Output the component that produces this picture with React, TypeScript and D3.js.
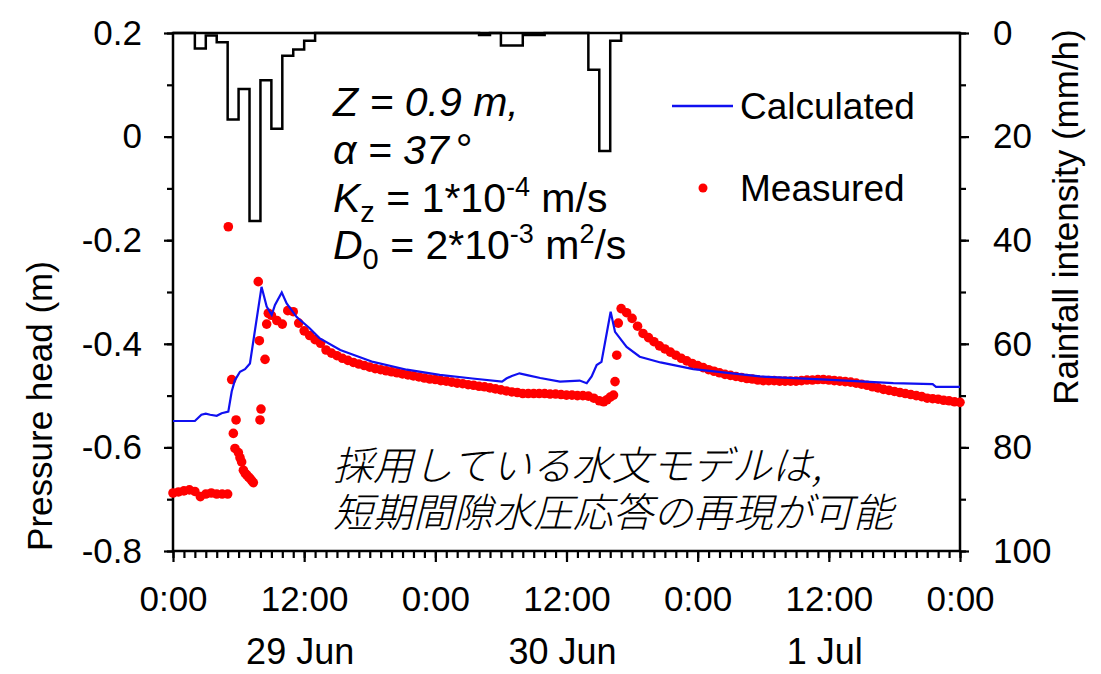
import { useEffect, useRef } from 'react';
import * as d3 from 'd3';

// Rainfall intensity (mm/h), one value per hour from 0:00 29 Jun
const RAIN = [
  0, 0, 3, 0.5, 1.8, 16.7, 10.8, 36.3, 9.1, 18.5, 4.4, 3.2,
  1.5, 0, 0, 0, 0, 0, 0, 0, 0, 0, 0, 0,
  0, 0, 0, 0, 0.4, 0, 2.4, 2.4, 0.4, 0.4, 0, 0,
  0, 0, 7.1, 22.8, 1.5, 0, 0, 0, 0, 0, 0, 0,
  0, 0, 0, 0, 0, 0, 0, 0, 0, 0, 0, 0,
  0, 0, 0, 0, 0, 0, 0, 0, 0, 0, 0, 0,
];

// Calculated pressure head (m)
const CALC_HOURS = [
  0, 2.0, 2.6, 3.0, 3.4, 4.0, 4.45, 5.06, 5.37, 5.67, 6.13, 6.59, 7.04, 8.1,
  8.57, 9.03, 9.33, 9.95, 10.4, 11.3, 12.5, 13.4, 15.3, 18.3, 21.4, 24.4, 27.4,
  30.1, 30.5, 31.0, 31.7, 32.5, 33.6, 35.4, 37.2, 37.85, 38.3, 38.76, 39.2,
  40.04, 40.44, 41.5, 42.7, 44.6, 47.6, 53.7, 59.8, 65.9, 69.5, 69.8, 72,
];
const CALC_HEAD = [
  -0.549, -0.549, -0.537, -0.535, -0.537, -0.539, -0.534, -0.531, -0.492, -0.47,
  -0.454, -0.449, -0.438, -0.29, -0.328, -0.344, -0.325, -0.301, -0.322, -0.348,
  -0.37, -0.389, -0.412, -0.435, -0.45, -0.46, -0.467, -0.473, -0.467, -0.462,
  -0.457, -0.461, -0.466, -0.473, -0.471, -0.476, -0.463, -0.441, -0.435,
  -0.338, -0.377, -0.406, -0.425, -0.436, -0.449, -0.463, -0.469, -0.476,
  -0.478, -0.483, -0.483,
];

// Measured pressure head (m): half-hourly runs plus the scattered points of the rises
const MEAS_STEP = 0.5;
const MEAS_A_START = 0;
const MEAS_A = [
  -0.688, -0.686, -0.684, -0.682, -0.685, -0.695, -0.69, -0.688, -0.69, -0.69, -0.69,
];
const MEAS_RISE1 = [
  [5.06, -0.174], [5.37, -0.469], [5.52, -0.573], [5.67, -0.602], [5.77, -0.547],
  [5.98, -0.61], [6.13, -0.62], [6.28, -0.628], [6.44, -0.644], [6.6, -0.65],
  [6.74, -0.653], [6.9, -0.657], [7.04, -0.66], [7.2, -0.664], [7.35, -0.668],
  [7.8, -0.28], [7.9, -0.394], [7.96, -0.547], [8.05, -0.526], [8.42, -0.43],
  [8.57, -0.362], [8.72, -0.341],
];
const MEAS_B_START = 9;
const MEAS_B = [
  -0.345, -0.355, -0.362, -0.336, -0.338, -0.36, -0.375, -0.384, -0.392, -0.399,
  -0.412, -0.418, -0.423, -0.428, -0.432, -0.436, -0.439, -0.442, -0.445, -0.448,
  -0.45, -0.452, -0.454, -0.456, -0.458, -0.46, -0.462, -0.464, -0.466, -0.468,
  -0.469, -0.471, -0.472, -0.474, -0.476, -0.477, -0.479, -0.48, -0.482, -0.483,
  -0.485, -0.487, -0.489, -0.491, -0.493, -0.494, -0.496, -0.496, -0.496, -0.496,
  -0.496, -0.497, -0.497, -0.498, -0.499, -0.499, -0.5, -0.5, -0.501, -0.505, -0.51,
];
const MEAS_RISE2 = [
  [39.4, -0.512], [39.7, -0.508], [40.0, -0.503], [40.3, -0.499], [40.44, -0.473],
  [40.6, -0.422], [40.74, -0.36],
];
const MEAS_C_START = 41;
const MEAS_C = [
  -0.332, -0.34, -0.351, -0.366, -0.38, -0.388, -0.396, -0.404, -0.41, -0.416,
  -0.422, -0.428, -0.433, -0.438, -0.442, -0.446, -0.45, -0.453, -0.456, -0.459,
  -0.461, -0.463, -0.465, -0.467, -0.468, -0.47, -0.471, -0.471, -0.471, -0.472,
  -0.472, -0.472, -0.472, -0.471, -0.47, -0.47, -0.469, -0.469, -0.47, -0.471,
  -0.472, -0.473, -0.474, -0.476, -0.478, -0.48, -0.483, -0.485, -0.488, -0.49,
  -0.492, -0.494, -0.496, -0.498, -0.5, -0.502, -0.505, -0.506, -0.507, -0.509,
  -0.51, -0.512, -0.513,
];

const X_TICK_LABELS = ['0:00', '12:00', '0:00', '12:00', '0:00', '12:00', '0:00'];
const DATE_LABELS = ['29 Jun', '30 Jun', '1 Jul'];
const LEFT_TICKS = [0.2, 0, -0.2, -0.4, -0.6, -0.8];
const LEFT_TICK_LABELS = ['0.2', '0', '-0.2', '-0.4', '-0.6', '-0.8'];
const RIGHT_TICKS = [0, 20, 40, 60, 80, 100];

const W = 1101;
const H = 674;
const PLOT = { left: 173, right: 960, top: 33, bottom: 551 };
const FONT = '"Liberation Sans", Arial, sans-serif';
const JP_FONT = '"Noto Sans CJK JP", sans-serif';
const BLUE = '#1010f0';
const RED = '#ff0000';

export default function App() {
  const svgRef = useRef<SVGSVGElement>(null);

  useEffect(() => {
    const svg = d3.select(svgRef.current);
    svg.selectAll('*').remove();

    const x = d3.scaleLinear().domain([0, 72]).range([PLOT.left, PLOT.right]);
    const y = d3.scaleLinear().domain([-0.8, 0.2]).range([PLOT.bottom, PLOT.top]);
    const yR = d3.scaleLinear().domain([0, 100]).range([PLOT.top, PLOT.bottom]);

    // measured table
    const measured: [number, number][] = [
      ...MEAS_A.map((v, i) => [MEAS_A_START + i * MEAS_STEP, v] as [number, number]),
      ...(MEAS_RISE1 as [number, number][]),
      ...MEAS_B.map((v, i) => [MEAS_B_START + i * MEAS_STEP, v] as [number, number]),
      ...(MEAS_RISE2 as [number, number][]),
      ...MEAS_C.map((v, i) => [MEAS_C_START + i * MEAS_STEP, v] as [number, number]),
    ];

    // Axes ------------------------------------------------------------------
    const styleAxis = (size: number) => (g: any) => {
      g.select('.domain').remove();
      g.selectAll('line').attr('stroke', '#000').attr('stroke-width', 2.2);
      g.selectAll('text')
        .style('font-family', FONT)
        .style('font-size', `${size}px`)
        .attr('fill', '#000');
    };

    // bottom minor ticks (hourly)
    svg
      .append('g')
      .attr('transform', `translate(0,${PLOT.bottom})`)
      .call(d3.axisBottom(x).tickValues(d3.range(0, 73, 1)).tickSize(7).tickFormat(() => ''))
      .call(styleAxis(35));
    // bottom major ticks
    svg
      .append('g')
      .attr('transform', `translate(0,${PLOT.bottom})`)
      .call(
        d3
          .axisBottom(x)
          .tickValues(d3.range(0, 73, 12))
          .tickSize(11)
          .tickPadding(24)
          .tickFormat((_, i) => X_TICK_LABELS[i])
      )
      .call(styleAxis(35));

    // date labels under the 12:00 ticks
    svg
      .append('g')
      .selectAll('text')
      .data(DATE_LABELS)
      .join('text')
      .attr('x', (_, i) => x(12 + i * 24) - 4)
      .attr('y', 664)
      .attr('text-anchor', 'middle')
      .style('font-family', FONT)
      .style('font-size', '36px')
      .text((d) => d);

    // left axis
    svg
      .append('g')
      .attr('transform', `translate(${PLOT.left},0)`)
      .call(d3.axisLeft(y).tickValues(d3.range(-0.8, 0.21, 0.1)).tickSize(6).tickFormat(() => ''))
      .call(styleAxis(35));
    svg
      .append('g')
      .attr('transform', `translate(${PLOT.left},0)`)
      .call(
        d3
          .axisLeft(y)
          .tickValues(LEFT_TICKS)
          .tickSize(9)
          .tickPadding(22)
          .tickFormat((_, i) => LEFT_TICK_LABELS[i])
      )
      .call(styleAxis(35));

    // right axis
    svg
      .append('g')
      .attr('transform', `translate(${PLOT.right},0)`)
      .call(d3.axisRight(yR).tickValues(d3.range(0, 101, 10)).tickSize(6).tickFormat(() => ''))
      .call(styleAxis(35));
    svg
      .append('g')
      .attr('transform', `translate(${PLOT.right},0)`)
      .call(d3.axisRight(yR).tickValues(RIGHT_TICKS).tickSize(9).tickPadding(24))
      .call(styleAxis(35));

    // frame
    svg
      .append('rect')
      .attr('x', PLOT.left)
      .attr('y', PLOT.top)
      .attr('width', PLOT.right - PLOT.left)
      .attr('height', PLOT.bottom - PLOT.top)
      .attr('fill', 'none')
      .attr('stroke', '#000')
      .attr('stroke-width', 2.5);

    // axis titles
    svg
      .append('text')
      .attr('transform', `translate(52,406) rotate(-90)`)
      .attr('text-anchor', 'middle')
      .style('font-family', FONT)
      .style('font-size', '35px')
      .text('Pressure head (m)');
    svg
      .append('text')
      .attr('transform', `translate(1078,217) rotate(-90)`)
      .attr('text-anchor', 'middle')
      .style('font-family', FONT)
      .style('font-size', '35px')
      .text('Rainfall intensity (mm/h)');

    // Hyetograph (step outline hanging from the top) -------------------------
    const rainPts = RAIN.map((r, i) => [i, r] as [number, number]);
    rainPts.push([72, RAIN[RAIN.length - 1]]);
    svg
      .append('path')
      .attr(
        'd',
        d3
          .line<[number, number]>()
          .x((d) => x(d[0]))
          .y((d) => yR(d[1]))
          .curve(d3.curveStepAfter)(rainPts)
      )
      .attr('fill', 'none')
      .attr('stroke', '#000')
      .attr('stroke-width', 2.5);

    // Measured dots ----------------------------------------------------------
    svg
      .append('g')
      .selectAll('circle')
      .data(measured)
      .join('circle')
      .attr('cx', (d) => x(d[0]))
      .attr('cy', (d) => y(d[1]))
      .attr('r', 4.8)
      .attr('fill', RED);

    // Calculated line --------------------------------------------------------
    svg
      .append('path')
      .attr(
        'd',
        d3
          .line<number>()
          .x((_, i) => x(CALC_HOURS[i]))
          .y((d) => y(d))(CALC_HEAD)
      )
      .attr('fill', 'none')
      .attr('stroke', BLUE)
      .attr('stroke-width', 2.2);

    // Legend -----------------------------------------------------------------
    svg
      .append('line')
      .attr('x1', 672)
      .attr('x2', 733)
      .attr('y1', 106)
      .attr('y2', 106)
      .attr('stroke', BLUE)
      .attr('stroke-width', 2.5);
    svg.append('circle').attr('cx', 703).attr('cy', 188).attr('r', 4.5).attr('fill', RED);
    svg
      .append('g')
      .selectAll('text')
      .data([
        ['Calculated', 119],
        ['Measured', 201],
      ])
      .join('text')
      .attr('x', 740)
      .attr('y', (d) => d[1] as number)
      .style('font-family', FONT)
      .style('font-size', '37px')
      .text((d) => d[0] as string);

    // Parameter annotation ---------------------------------------------------
    const ann = svg
      .append('g')
      .style('font-family', FONT)
      .style('font-size', '41px');

    ann.append('text').attr('x', 333).attr('y', 116).style('font-style', 'italic').text('Z = 0.9 m,');

    const a = ann.append('text').attr('x', 333).attr('y', 164);
    a.append('tspan').style('font-style', 'italic').text('α = 37');
    a.append('tspan').attr('dx', 7).attr('font-size', 42).text('°');

    const k = ann.append('text').attr('x', 333).attr('y', 212);
    k.append('tspan').style('font-style', 'italic').text('K');
    k.append('tspan').attr('font-size', 29).attr('dy', 10).text('z');
    k.append('tspan').attr('dy', -10).text(' = 1*10');
    k.append('tspan').attr('font-size', 27).attr('dy', -16).text('-4');
    k.append('tspan').attr('dy', 16).text(' m/s');

    const dd = ann.append('text').attr('x', 333).attr('y', 259);
    dd.append('tspan').style('font-style', 'italic').text('D');
    dd.append('tspan').attr('font-size', 29).attr('dy', 10).text('0');
    dd.append('tspan').attr('dy', -10).text(' = 2*10');
    dd.append('tspan').attr('font-size', 27).attr('dy', -16).text('-3');
    dd.append('tspan').attr('dy', 16).text(' m');
    dd.append('tspan').attr('font-size', 27).attr('dy', -16).text('2');
    dd.append('tspan').attr('dy', 16).text('/s');

    // Japanese note
    const jp = svg
      .append('g')
      .style('font-family', JP_FONT)
      .style('font-size', '40px')
      .style('font-style', 'italic')
      .style('font-weight', 300);
    jp.append('text').attr('x', 333).attr('y', 480).text('採用している水文モデルは,');
    jp.append('text').attr('x', 333).attr('y', 527).text('短期間隙水圧応答の再現が可能');
  }, []);

  return (
    <svg
      ref={svgRef}
      width={W}
      height={H}
      style={{ position: 'absolute', left: 0, top: 0, background: '#fff' }}
    />
  );
}
